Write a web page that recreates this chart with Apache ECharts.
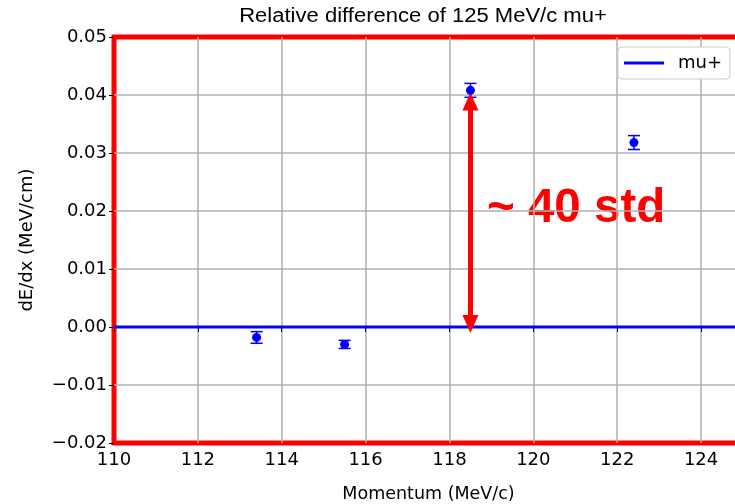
<!DOCTYPE html>
<html><head><meta charset="utf-8">
<script src="https://cdn.jsdelivr.net/npm/echarts@6/dist/echarts.min.js"></script>
<style>html,body{margin:0;padding:0;background:#fff;overflow:hidden}#c{width:735px;height:504px}</style>
</head><body><div id="c"></div>
<script>
const momentum = [113.4, 115.5, 118.5, 122.4];
const diff = [-0.0018, -0.0030, 0.0408, 0.0318];
const err = [0.0010, 0.0007, 0.0012, 0.0012];
const refX = [110, 125];
const refY = [0, 0];
const arrowX = 118.5, arrowY0 = 0.0005, arrowY1 = 0.0389;
const titleText = 'Relative difference of 125 MeV/c mu+';
const noteText = '~ 40 std';

const chart = echarts.init(document.getElementById('c'));
const font = 'DejaVu Sans';
chart.setOption({
  animation: false,
  grid: {left: 114, top: 37, height: 406, width: 629, outerBoundsMode: 'none', containLabel: false, show: true, borderColor: '#ff0000', borderWidth: 5, backgroundColor: 'transparent'},
  legend: {data: ['mu+'], right: 5, top: 47, orient: 'vertical', backgroundColor: '#fff', borderColor: '#cccccc', borderWidth: 1, borderRadius: 4,
    padding: [7, 8, 7, 6], itemWidth: 40, itemHeight: 3, icon: 'rect', itemGap: 4,
    textStyle: {fontFamily: font, fontSize: 18, color: '#000', padding: [0, 0, 0, 9]}},
  xAxis: {type: 'value', min: 110, max: 125, interval: 2, name: 'Momentum (MeV/c)', nameLocation: 'middle', nameGap: 42,
    nameTextStyle: {fontFamily: font, fontSize: 17.5, color: '#000', align: 'center'},
    axisLine: {show: false}, axisTick: {show: true, length: 5, lineStyle: {color: '#000'}},
    axisLabel: {fontFamily: font, fontSize: 18, color: '#000', margin: 8, showMaxLabel: false},
    splitLine: {show: true, showMinLine: false, showMaxLine: false, lineStyle: {color: '#b0b0b0', width: 1.5}}},
  yAxis: {type: 'value', min: -0.02, max: 0.05, interval: 0.01, name: 'dE/dx (MeV/cm)', nameLocation: 'middle', nameGap: 78,
    nameTextStyle: {fontFamily: font, fontSize: 18, color: '#000'},
    axisLine: {show: false}, axisTick: {show: true, length: 5, lineStyle: {color: '#000'}},
    axisLabel: {fontFamily: font, fontSize: 18, color: '#000', margin: 7, formatter: v => (v < 0 ? '\u2212' : '') + Math.abs(v).toFixed(2)},
    splitLine: {show: true, showMinLine: false, showMaxLine: false, lineStyle: {color: '#b0b0b0', width: 1.5}}},
  series: [
    {name: 'mu+', type: 'line', data: refX.map((x, i) => [x, refY[i]]), symbol: 'none', lineStyle: {color: '#0000ff', width: 3}, itemStyle: {color: '#0000ff'}, z: 3,
     markLine: {silent: true, symbol: ['triangle', 'triangle'], symbolSize: [16, 18], label: {show: false},
       lineStyle: {color: '#ff0000', width: 5, type: 'solid', opacity: 1},
       data: [[{coord: [arrowX, arrowY0]}, {coord: [arrowX, arrowY1]}]]}},
    {type: 'custom', z: 4, data: momentum.map((x, i) => [x, diff[i], err[i]]),
     renderItem: (params, api) => {
       const x = api.value(0), y = api.value(1), e = api.value(2);
       const top = api.coord([x, y + e]), bot = api.coord([x, y - e]);
       const st = {stroke: '#0000ff', lineWidth: 1.5};
       return {type: 'group', children: [
         {type: 'line', shape: {x1: top[0], y1: top[1], x2: bot[0], y2: bot[1]}, style: st},
         {type: 'line', shape: {x1: top[0] - 6, y1: top[1], x2: top[0] + 6, y2: top[1]}, style: st},
         {type: 'line', shape: {x1: bot[0] - 6, y1: bot[1], x2: bot[0] + 6, y2: bot[1]}, style: st}
       ]};
     }},
    {type: 'scatter', z: 5, data: momentum.map((x, i) => [x, diff[i]]), symbol: 'circle', symbolSize: 9, itemStyle: {color: '#0000ff', opacity: 1}}
  ],
  graphic: [
    {type: 'text', x: 423, y: 17, scaleX: 1.13, originX: 0, style: {text: titleText, x: 0, y: 0, align: 'center', verticalAlign: 'middle', fontFamily: 'Liberation Sans', fontSize: 19.5, fill: '#000'}},
    {type: 'text', left: 487, top: 185, style: {text: noteText, fontFamily: 'Liberation Sans', fontWeight: 'bold', fontSize: 47.5, fill: '#ff0000'}}
  ]
});
</script></body></html>
